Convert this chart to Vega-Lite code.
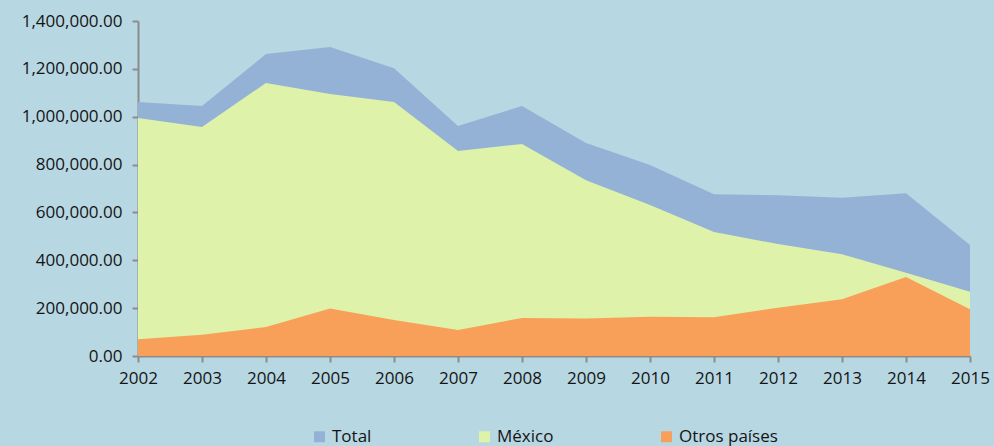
{
  "$schema": "https://vega.github.io/schema/vega-lite/v6.json",
  "autosize": {"type": "none"},
  "width": 832,
  "height": 335,
  "padding": {"left": 138, "top": 21, "right": 24, "bottom": 90},
  "background": "#b7d7e3",
  "config": {
    "view": {"stroke": null},
    "font": "Open Sans",
    "axis": {"labelFont": "Open Sans", "labelFontSize": 17, "labelColor": "#141414", "domainColor": "#8c8c8c", "tickColor": "#8c8c8c", "domainWidth": 2, "tickWidth": 2, "grid": false, "title": null},
    "legend": {"labelFont": "Open Sans", "labelFontSize": 17, "labelColor": "#141414"}
  },
  "data": {"values": [
    {"year": "2002", "Total": 1061000, "Mexico": 995000, "Otros": 70000},
    {"year": "2003", "Total": 1045000, "Mexico": 957000, "Otros": 89000},
    {"year": "2004", "Total": 1262000, "Mexico": 1141000, "Otros": 121000},
    {"year": "2005", "Total": 1291000, "Mexico": 1095000, "Otros": 198000},
    {"year": "2006", "Total": 1203000, "Mexico": 1061000, "Otros": 150000},
    {"year": "2007", "Total": 961000, "Mexico": 857000, "Otros": 109000},
    {"year": "2008", "Total": 1045000, "Mexico": 886000, "Otros": 159000},
    {"year": "2009", "Total": 890000, "Mexico": 735000, "Otros": 157000},
    {"year": "2010", "Total": 798000, "Mexico": 631000, "Otros": 164000},
    {"year": "2011", "Total": 676000, "Mexico": 518000, "Otros": 162000},
    {"year": "2012", "Total": 672000, "Mexico": 468000, "Otros": 202000},
    {"year": "2013", "Total": 661000, "Mexico": 425000, "Otros": 237000},
    {"year": "2014", "Total": 680000, "Mexico": 348000, "Otros": 330000},
    {"year": "2015", "Total": 464000, "Mexico": 269000, "Otros": 195000}
  ]},
  "encoding": {
    "x": {"field": "year", "type": "ordinal", "scale": {"type": "point", "padding": 0},
      "axis": {"labelAngle": 0, "tickSize": 6, "labelPadding": 8}}
  },
  "layer": [
    {
      "mark": {"type": "area", "opacity": 1},
      "encoding": {
        "y": {"field": "Total", "type": "quantitative", "scale": {"domain": [0, 1400000]},
          "axis": {"values": [0, 200000, 400000, 600000, 800000, 1000000, 1200000, 1400000], "format": ",.2f", "tickSize": 6, "labelPadding": 10}},
        "color": {"datum": "Total", "type": "nominal",
          "scale": {"domain": ["Total", "México", "Otros países"], "range": ["#94b2d6", "#dff2aa", "#f8a05a"]},
          "legend": {"title": null, "orient": "none", "direction": "horizontal", "legendX": 173, "legendY": 407, "symbolType": "square", "symbolSize": 120, "symbolOpacity": 1, "symbolStrokeWidth": 0, "columnPadding": 104, "labelOffset": 4}}
      }
    },
    {
      "mark": {"type": "area", "opacity": 1},
      "encoding": {
        "y": {"field": "Mexico", "type": "quantitative"},
        "color": {"datum": "México", "type": "nominal"}
      }
    },
    {
      "mark": {"type": "area", "opacity": 1},
      "encoding": {
        "y": {"field": "Otros", "type": "quantitative"},
        "color": {"datum": "Otros países", "type": "nominal"}
      }
    }
  ]
}
